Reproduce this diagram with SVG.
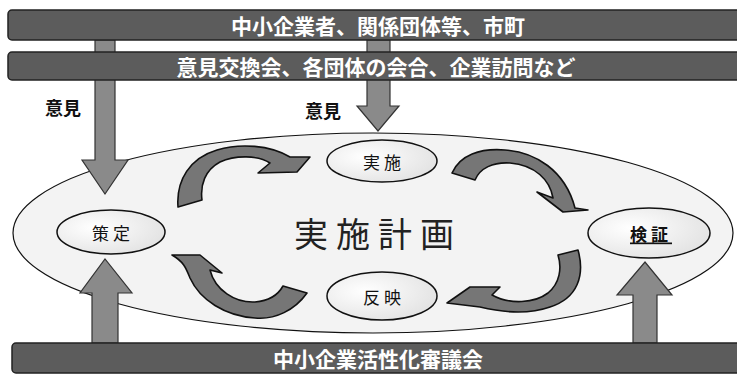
<svg xmlns="http://www.w3.org/2000/svg" width="737" height="374" viewBox="0 0 737 374">
<style>
.bar{fill:#5c5c5c;stroke:#222;stroke-width:1.5}
.bart{font-family:"Noto Sans CJK JP","Noto Sans CJK SC",sans-serif;font-weight:bold;fill:#fff;text-anchor:middle;dominant-baseline:central}
.sarrow{fill:#8a8a8a;stroke:#333;stroke-width:1.2}
.carrow{fill:#767676;stroke:#111;stroke-width:1.6;stroke-linejoin:round}
.node{fill:url(#ng);stroke:#111;stroke-width:1.5}
.nt{font-family:"Noto Sans CJK JP","Noto Sans CJK SC",sans-serif;font-size:17px;fill:#111;text-anchor:middle;dominant-baseline:central;letter-spacing:4px}
.lbl{font-family:"Noto Sans CJK JP","Noto Sans CJK SC",sans-serif;font-size:18px;font-weight:bold;fill:#111;dominant-baseline:central}
</style>
<defs>
<radialGradient id="ng" cx="0.35" cy="0.4" r="0.7">
<stop offset="0" stop-color="#ffffff"/>
<stop offset="1" stop-color="#e2e2e2"/>
</radialGradient>
</defs>
<rect width="737" height="374" fill="#fff"/>
<g id="plan">
<ellipse cx="373" cy="233" rx="360" ry="100" fill="#f3f3f3" stroke="#111" stroke-width="1.2"/>
<text x="378" y="232" font-family="'Noto Sans CJK JP','Noto Sans CJK SC',sans-serif" font-size="34" fill="#222" text-anchor="middle" dominant-baseline="central" letter-spacing="8">実施計画</text>
</g>
<g id="connectors">
<path class="sarrow" d="M95,40 L115,40 L115,160 L128,160 L105,194 L82,160 L95,160 Z"/>
<path class="sarrow" d="M367,40 L390,40 L390,106 L399,106 L378,131 L357,106 L367,106 Z"/>
<path class="sarrow" d="M92,343 L92,293 L80,293 L105,259 L132,293 L118,293 L118,343 Z"/>
<path class="sarrow" d="M633,343 L633,295 L617,295 L645,262 L672,295 L657,295 L657,343 Z"/>
<path class="carrow" d="M178,207 C176,180 190,158 217,150 C240,143 270,145 290,157 L310,157 L297,172 L258,173 L270,163 C258,155 235,155 220,162 C205,170 200,185 202,200 Z"/>
<path class="carrow" d="M452,173 C460,155 480,148 505,150 C535,152 565,170 575,208 L588,210 L563,212 L537,192 L553,198 C550,180 535,165 510,163 C493,162 480,168 475,180 Z"/>
<path class="carrow" d="M558,255 L578,250 C585,275 578,298 550,307 C530,314 505,313 480,307 L447,303 L470,287 L500,287 L492,295 C510,305 535,303 548,293 C560,283 562,268 558,255 Z"/>
<path class="carrow" d="M172,255 L200,255 L222,273 L210,270 C215,290 235,303 255,302 C268,301 278,295 283,286 L307,293 C295,310 275,320 255,318 C225,316 200,300 190,278 C186,268 184,262 172,255 Z"/>
</g>
<g id="bar-top">
<rect class="bar" x="8" y="10" width="740" height="30" rx="4"/>
<text class="bart" x="378" y="25" font-size="21">中小企業者、関係団体等、市町</text>
</g>
<g id="bar-mid">
<rect class="bar" x="8" y="52" width="740" height="28" rx="4"/>
<text class="bart" x="376" y="66" font-size="21">意見交換会、各団体の会合、企業訪問など</text>
</g>
<g id="bar-bottom">
<rect class="bar" x="12" y="343" width="740" height="30" rx="4"/>
<text class="bart" x="378" y="358" font-size="21">中小企業活性化審議会</text>
</g>
<g id="label-left"><text class="lbl" x="45" y="107">意見</text></g>
<g id="label-mid"><text class="lbl" x="305" y="110">意見</text></g>
<g id="node-sakutei">
<ellipse class="node" cx="111" cy="232" rx="54" ry="22"/>
<text class="nt" x="113" y="232">策定</text>
</g>
<g id="node-jisshi">
<ellipse class="node" cx="382" cy="161" rx="55" ry="21"/>
<text class="nt" x="384" y="161">実施</text>
</g>
<g id="node-hanei">
<ellipse class="node" cx="382" cy="296" rx="55" ry="24"/>
<text class="nt" x="384" y="296">反映</text>
</g>
<g id="node-kensho">
<ellipse class="node" cx="649" cy="233" rx="61" ry="25"/>
<text class="nt" x="651" y="233" font-weight="bold" text-decoration="underline">検証</text>
</g>
</svg>
